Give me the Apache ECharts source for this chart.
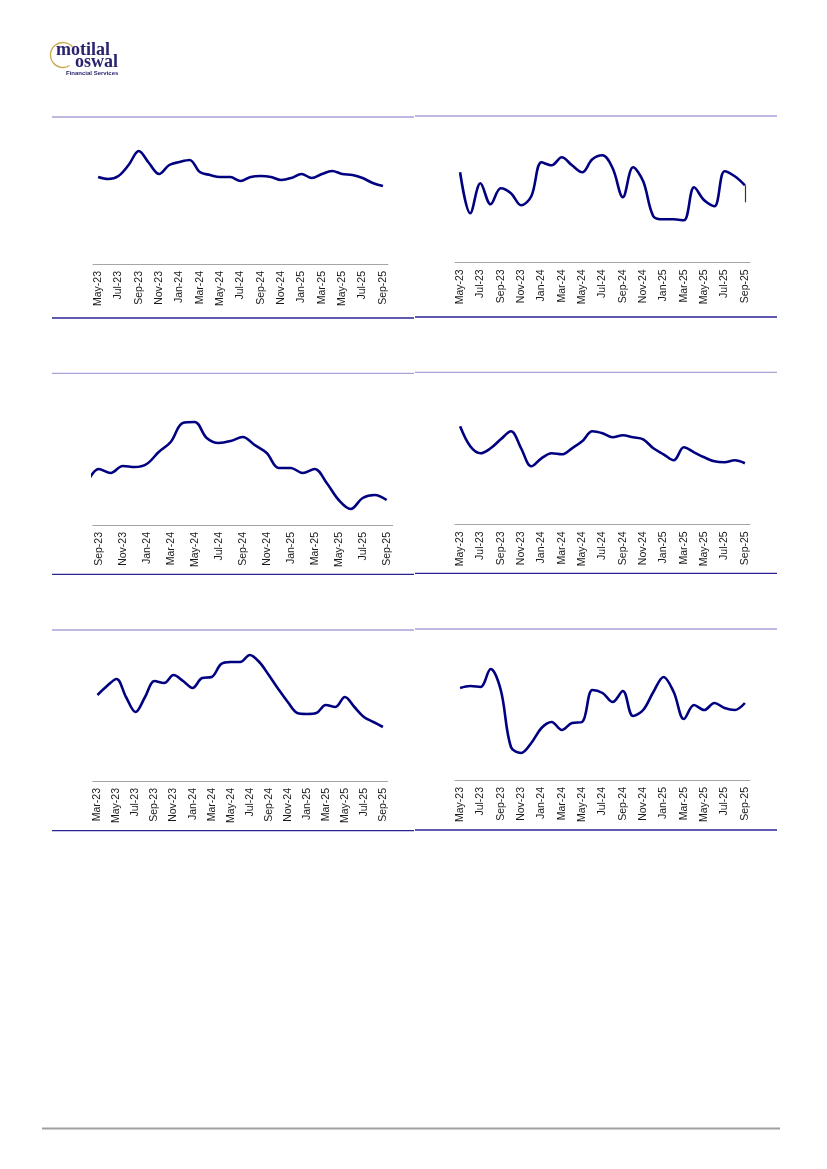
<!DOCTYPE html>
<html>
<head>
<meta charset="utf-8">
<script src="https://cdn.jsdelivr.net/npm/echarts@6/dist/echarts.min.js"></script>
<style>
html,body{margin:0;padding:0;background:#fff;}
#c{width:827px;height:1169px;}
</style>
</head>
<body>
<div id="c"></div>
<script>
// ---- categories ----
const months29 = ['May-23','Jun-23','Jul-23','Aug-23','Sep-23','Oct-23','Nov-23','Dec-23','Jan-24','Feb-24','Mar-24','Apr-24','May-24','Jun-24','Jul-24','Aug-24','Sep-24','Oct-24','Nov-24','Dec-24','Jan-25','Feb-25','Mar-25','Apr-25','May-25','Jun-25','Jul-25','Aug-25','Sep-25'];
const months26 = ['Aug-23','Sep-23','Oct-23','Nov-23','Dec-23','Jan-24','Feb-24','Mar-24','Apr-24','May-24','Jun-24','Jul-24','Aug-24','Sep-24','Oct-24','Nov-24','Dec-24','Jan-25','Feb-25','Mar-25','Apr-25','May-25','Jun-25','Jul-25','Aug-25','Sep-25'];
const months31 = ['Mar-23','Apr-23','May-23','Jun-23','Jul-23','Aug-23','Sep-23','Oct-23','Nov-23','Dec-23','Jan-24','Feb-24','Mar-24','Apr-24','May-24','Jun-24','Jul-24','Aug-24','Sep-24','Oct-24','Nov-24','Dec-24','Jan-25','Feb-25','Mar-25','Apr-25','May-25','Jun-25','Jul-25','Aug-25','Sep-25'];

// ---- series values (estimated, arbitrary units) ----
const values1 = [8.7,8.5,8.8,9.9,11.3,10.1,9.0,9.9,10.2,10.4,9.2,8.9,8.7,8.7,8.3,8.7,8.8,8.7,8.4,8.6,9.0,8.6,9.0,9.3,9.0,8.9,8.6,8.1,7.8];
const values2 = [9.0,4.9,7.9,5.8,7.4,6.9,5.7,6.6,10.0,9.7,10.5,9.7,9.0,10.3,10.7,9.4,6.5,9.5,8.1,4.6,4.3,4.3,4.2,7.5,6.2,5.6,9.1,8.6,7.7];
const stub2 = [7.7, 6.0];
const values3 = [4.2,5.6,5.2,5.9,5.8,6.1,7.3,8.3,10.2,10.3,8.7,8.2,8.4,8.8,8.0,7.2,5.7,5.7,5.2,5.6,4.2,2.5,1.6,2.7,3.0,2.5];
const values4 = [9.8,7.8,7.1,7.6,8.5,9.3,7.6,5.8,6.6,7.1,7.0,7.6,8.3,9.3,9.1,8.7,8.9,8.7,8.5,7.6,7.0,6.4,7.7,7.2,6.7,6.3,6.2,6.4,6.1];
const values5 = [8.6,9.5,10.2,8.4,6.9,8.4,10.0,9.8,10.6,10.0,9.3,10.3,10.4,11.7,11.9,11.9,12.6,11.9,10.6,9.2,7.9,6.8,6.7,6.8,7.6,7.4,8.4,7.4,6.4,5.9,5.4];
const values6 = [9.2,9.4,9.3,11.1,9.0,3.3,2.7,3.7,5.2,5.8,5.0,5.7,5.8,9.0,8.7,7.8,8.9,6.4,7.0,8.8,10.3,8.8,6.1,7.5,7.0,7.7,7.2,7.0,7.7];

// ---- texts ----
const logoWord1 = 'motilal';
const logoWord2 = 'oswal';
const logoSub = 'Financial Services';

// ---- layout ----
const panels = [
  {cats: months29, vals: values1, left: 93,   width: 295, top: 120, axisY: 264},
  {cats: months29, vals: values2, left: 455,  width: 295, top: 120, axisY: 262.3, stub: stub2},
  {cats: months26, vals: values3, left: 92.7, width: 300, top: 380, axisY: 525, catMin: 1},
  {cats: months29, vals: values4, left: 455,  width: 295, top: 380, axisY: 524.3},
  {cats: months31, vals: values5, left: 92.7, width: 295, top: 636, axisY: 781},
  {cats: months29, vals: values6, left: 455,  width: 295, top: 636, axisY: 780}
];

const grid = [], xAxis = [], yAxis = [], series = [];
panels.forEach((p, i) => {
  const h = p.axisY - p.top;
  const start = p.catMin || 0;
  grid.push({left: p.left, top: p.top, width: p.width, height: h});
  const xa = {
    type: 'category', gridIndex: i, data: p.cats, boundaryGap: true,
    axisLine: {show: true, lineStyle: {color: '#a6a6a6', width: 1}},
    axisTick: {show: false},
    axisLabel: {rotate: 90, interval: (idx) => idx >= start && (idx - start) % 2 === 0, margin: 7, fontSize: 10.5, color: '#1a1a1a', fontFamily: 'Liberation Sans'},
    splitLine: {show: false}
  };
  if (p.catMin !== undefined) { xa.min = p.catMin; xa.max = p.cats.length - 1; }
  xAxis.push(xa);
  yAxis.push({type: 'value', gridIndex: i, min: 0, max: h / 10, show: false, splitLine: {show: false}});
  const s = {
    type: 'line', xAxisIndex: i, yAxisIndex: i, data: p.vals, smooth: 0.35,
    symbol: 'none', clip: true,
    lineStyle: {color: '#000080', width: 2.6}
  };
  if (p.stub) {
    const last = p.cats[p.cats.length - 1];
    s.markLine = {
      silent: true, symbol: 'none', label: {show: false},
      lineStyle: {color: '#333333', width: 1.2, type: 'solid'},
      data: [[{coord: [last, p.stub[0]]}, {coord: [last, p.stub[1]]}]]
    };
  }
  series.push(s);
});

// panel frame lines
const lightC = '#a7a2d8', darkC = '#2b2296';
const frame = [
  [52, 414, 117, 318], [415, 777, 116, 317],
  [52, 414, 373.3, 574.3], [415, 777, 372.3, 573.3],
  [52, 414, 630, 830.7], [415, 777, 629, 830]
];
const graphic = [];
frame.forEach(f => {
  graphic.push({type: 'line', shape: {x1: f[0], y1: f[2], x2: f[1], y2: f[2]}, style: {stroke: lightC, lineWidth: 1.3}, silent: true});
  graphic.push({type: 'line', shape: {x1: f[0], y1: f[3], x2: f[1], y2: f[3]}, style: {stroke: darkC, lineWidth: 1.3}, silent: true});
});
// footer rule
graphic.push({type: 'line', shape: {x1: 42, y1: 1128.5, x2: 780, y2: 1128.5}, style: {stroke: '#a0a0a0', lineWidth: 2}, silent: true});
// logo
graphic.push({type: 'arc', shape: {cx: 63, cy: 55, r: 12.5, startAngle: -Math.PI * 0.22, endAngle: Math.PI * 0.32, clockwise: false}, style: {stroke: '#c9a94e', fill: 'none', lineWidth: 1.3}, silent: true});
graphic.push({type: 'text', x: 56, y: 41, style: {text: logoWord1, font: 'bold 18px "Liberation Serif"', fill: '#2a2470'}, silent: true});
graphic.push({type: 'text', x: 75, y: 53.5, style: {text: logoWord2, font: 'bold 18px "Liberation Serif"', fill: '#2a2470'}, silent: true});
graphic.push({type: 'text', x: 66, y: 70, style: {text: logoSub, font: 'bold 6px "Liberation Sans"', fill: '#2a2470'}, silent: true});

const chart = echarts.init(document.getElementById('c'), null, {renderer: 'canvas', width: 827, height: 1169});
chart.setOption({
  animation: false,
  backgroundColor: '#ffffff',
  grid, xAxis, yAxis, series, graphic
});
</script>
</body>
</html>
